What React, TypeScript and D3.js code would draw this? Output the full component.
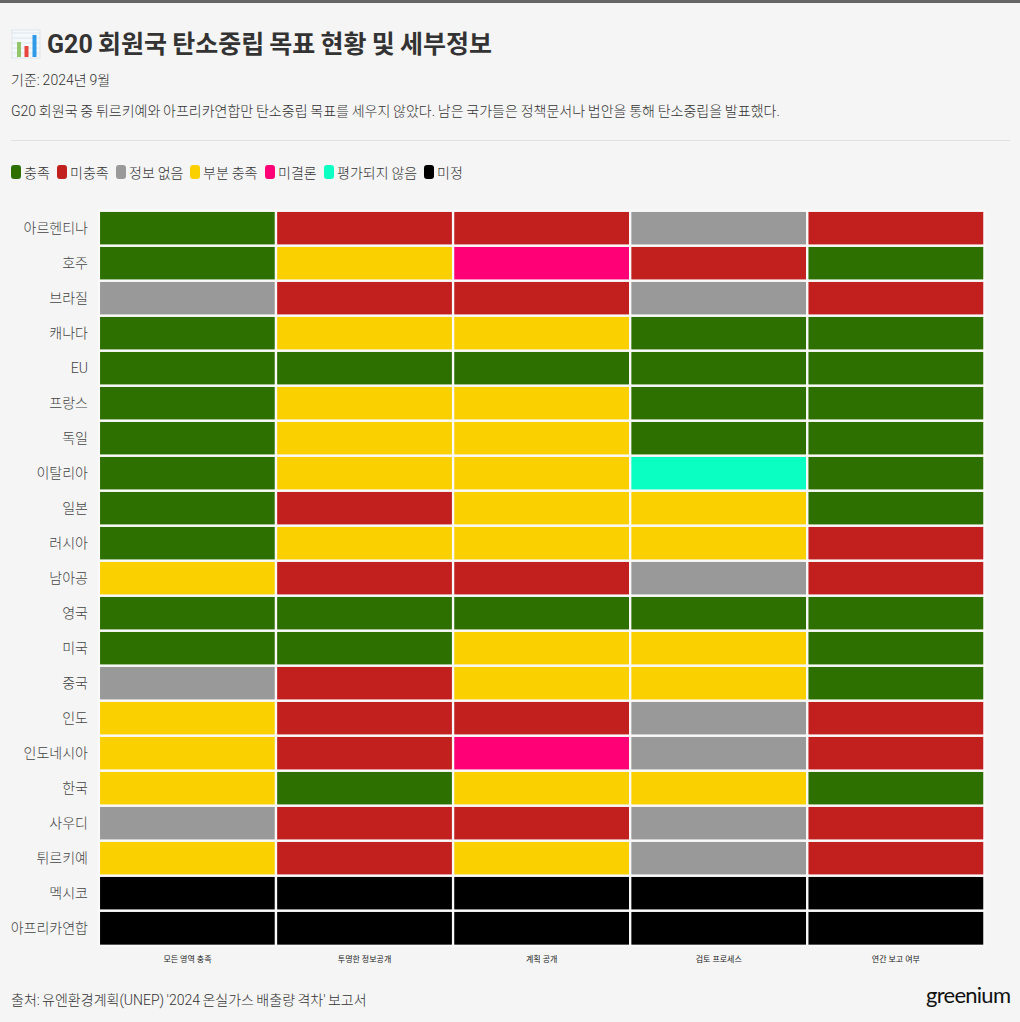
import React from 'react';
import * as d3 from 'd3';

const countries = ['아르헨티나','호주','브라질','캐나다','EU','프랑스','독일','이탈리아','일본','러시아','남아공','영국','미국','중국','인도','인도네시아','한국','사우디','튀르키예','멕시코','아프리카연합'];
const criteria = ['모든 영역 충족','투명한 정보공개','계획 공개','검토 프로세스','연간 보고 여부'];
const statuses = ['충족','미충족','정보 없음','부분 충족','미결론','평가되지 않음','미정'];
const statusColors = ['#2d7000','#c21f1f','#999999','#fbd000','#ff0077','#0affc2','#000000'];
const legendX = [11,57,116,190,265,324,424];
const iconBars = [[17,15,'#93c66b'],[24.5,11,'#e8453c'],[32.5,22,'#2f9be8']] as const;
const iconLines = [33,38,43,48,53];

const allCriteria = [
  ['충족','미충족','미충족','정보 없음','미충족'],
  ['충족','부분 충족','미결론','미충족','충족'],
  ['정보 없음','미충족','미충족','정보 없음','미충족'],
  ['충족','부분 충족','부분 충족','충족','충족'],
  ['충족','충족','충족','충족','충족'],
  ['충족','부분 충족','부분 충족','충족','충족'],
  ['충족','부분 충족','부분 충족','충족','충족'],
  ['충족','부분 충족','부분 충족','평가되지 않음','충족'],
  ['충족','미충족','부분 충족','부분 충족','충족'],
  ['충족','부분 충족','부분 충족','부분 충족','미충족'],
  ['부분 충족','미충족','미충족','정보 없음','미충족'],
  ['충족','충족','충족','충족','충족'],
  ['충족','충족','부분 충족','부분 충족','충족'],
  ['정보 없음','미충족','부분 충족','부분 충족','충족'],
  ['부분 충족','미충족','미충족','정보 없음','미충족'],
  ['부분 충족','미충족','미결론','정보 없음','미충족'],
  ['부분 충족','충족','부분 충족','부분 충족','충족'],
  ['정보 없음','미충족','미충족','정보 없음','미충족'],
  ['부분 충족','미충족','부분 충족','정보 없음','미충족'],
  ['미정','미정','미정','미정','미정'],
  ['미정','미정','미정','미정','미정'],
];

const FONT = "Roboto, 'Noto Sans CJK KR', sans-serif";

export default function App() {
  const x = d3.scaleBand().domain(criteria).range([98.9, 984.4]);
  const y = d3.scaleBand().domain(countries).range([210.8, 945.8]);
  const color = d3.scaleOrdinal<string, string>().domain(statuses).range(statusColors);
  return (
    <svg width={1020} height={1022} style={{ position: 'absolute', left: 0, top: 0, background: '#f5f5f5', fontFamily: FONT }}>
      <rect x={0} y={0} width={1020} height={3} fill="#666666" />
      <g>
        <rect x={12} y={30} width={28} height={28} fill="#f6f9fc" stroke="#dfe5ec" strokeWidth={1} />
        {iconLines.map(v => <line key={v} x1={12} x2={40} y1={v} y2={v} stroke="#dce6f0" />)}
        {iconBars.map(([bx, h, c]) => <rect key={c} x={bx} y={57 - h} width={4} height={h} fill={c} />)}
      </g>
      <text x={47} y={53} fontSize={25} fontWeight={700} fill="#333" wordSpacing={-1}>G20 회원국 탄소중립 목표 현황 및 세부정보</text>
      <text x={11} y={85} fontSize={14} fontWeight={300} fill="#333" wordSpacing={-0.5}>기준: 2024년 9월</text>
      <text x={11} y={116} fontSize={14} fontWeight={300} fill="#333" wordSpacing={-0.65}>G20 회원국 중 튀르키예와 아프리카연합만 탄소중립 목표를 세우지 않았다. 남은 국가들은 정책문서나 법안을 통해 탄소중립을 발표했다.</text>
      <line x1={11} x2={1010} y1={140.5} y2={140.5} stroke="#e0e0e0" />
      {statuses.map((s, i) => (
        <g key={s}>
          <rect x={legendX[i]} y={165} width={10} height={14} rx={3} fill={color(s)} />
          <text x={legendX[i] + 13} y={178} fontSize={14} fontWeight={300} fill="#333" wordSpacing={-0.5}>{s}</text>
        </g>
      ))}
      {countries.map((c, r) => (
        <g key={c}>
          <text x={88} y={(y(c) as number) + y.bandwidth() / 2 + 5} textAnchor="end" fontSize={14} fontWeight={300} fill="#444">{c}</text>
          {criteria.map((k, j) => (
            <rect key={k} x={x(k)} y={y(c)} width={x.bandwidth()} height={y.bandwidth()} fill={color(allCriteria[r][j])} stroke="#f9f9f9" strokeWidth={2.3} />
          ))}
        </g>
      ))}
      {criteria.map(k => (
        <text key={k} x={(x(k) as number) + x.bandwidth() / 2} y={962} textAnchor="middle" fontSize={8} fontWeight={400} fill="#222">{k}</text>
      ))}
      <text x={11} y={1005} fontSize={14} fontWeight={300} fill="#333" wordSpacing={-1}>출처: 유엔환경계획(UNEP) '2024 온실가스 배출량 격차' 보고서</text>
      <text x={926} y={1003} fontSize={22} fontWeight={400} fill="#111" style={{ fontFamily: "Lato, sans-serif" }} textLength={85}>greenium</text>
    </svg>
  );
}
